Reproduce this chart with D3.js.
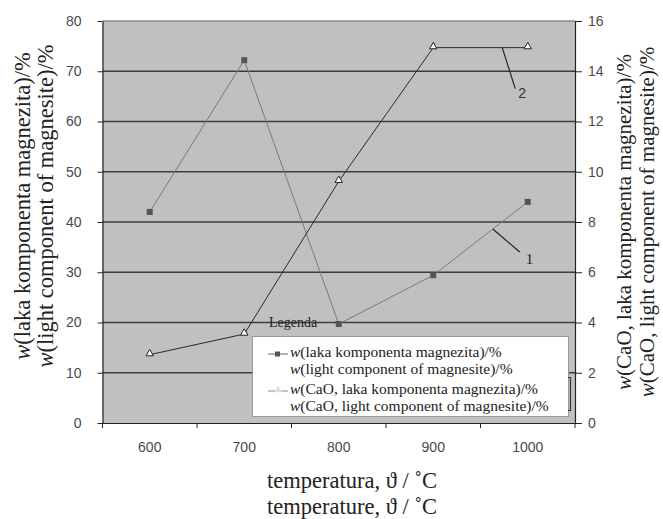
<!DOCTYPE html>
<html>
<head>
<meta charset="utf-8">
<script src="https://cdn.jsdelivr.net/npm/d3@7"></script>
<style>
  body { margin: 0; background: #fff; }
  svg { display: block; }
  .tick text { font-family: "Liberation Sans", Arial, sans-serif; font-size: 14px; fill: #4a4a4a; }
</style>
</head>
<body>
<div id="chart"></div>
<script>
// ---------------- data ----------------
const temps = ["600", "700", "800", "900", "1000"];
const lightComponent = [42.0, 72.2, 19.7, 29.4, 44.0];   // left axis, %
const caoContent = [2.72, 3.54, 9.62, 14.94, 14.94];     // right axis, %
const leftTicks = [0, 10, 20, 30, 40, 50, 60, 70, 80];
const rightTicks = [0, 2, 4, 6, 8, 10, 12, 14, 16];

const SERIF = "'Liberation Serif', 'Times New Roman', serif";

// ---------------- layout ----------------
const width = 663, height = 519;
const plot = { left: 102.5, right: 575, top: 21, bottom: 423 };

const svg = d3.select("#chart").append("svg")
  .attr("width", width)
  .attr("height", height);

const x = d3.scaleBand().domain(temps).range([plot.left, plot.right]);
const yL = d3.scaleLinear().domain([0, 80]).range([plot.bottom, plot.top]);
const yR = d3.scaleLinear().domain([0, 16]).range([plot.bottom, plot.top]);
const cx = d => x(d) + x.bandwidth() / 2;

// plot background
svg.append("rect")
  .attr("x", plot.left).attr("y", plot.top)
  .attr("width", plot.right - plot.left).attr("height", plot.bottom - plot.top)
  .attr("fill", "#c0c0c0");

// gridlines
svg.append("g").selectAll("line")
  .data(leftTicks.filter(t => t > 0 && t < 80))
  .enter().append("line")
  .attr("x1", plot.left).attr("x2", plot.right)
  .attr("y1", d => yL(d)).attr("y2", d => yL(d))
  .attr("stroke", "#3c3c3c").attr("stroke-width", 1.5);

svg.append("line")
  .attr("x1", plot.left).attr("x2", plot.right)
  .attr("y1", plot.top).attr("y2", plot.top)
  .attr("stroke", "#8a8a8a").attr("stroke-width", 1.5);

// ---------------- axes ----------------
const leftAxis = svg.append("g")
  .attr("transform", `translate(${plot.left},0)`)
  .call(d3.axisLeft(yL).tickValues(leftTicks).tickSize(5).tickSizeOuter(0).tickPadding(16));

const rightAxis = svg.append("g")
  .attr("transform", `translate(${plot.right},0)`)
  .call(d3.axisRight(yR).tickValues(rightTicks).tickSize(7).tickSizeOuter(0).tickPadding(6));

const bottomAxis = svg.append("g")
  .attr("transform", `translate(0,${plot.bottom})`)
  .call(d3.axisBottom(x).tickSize(0).tickPadding(19));

// boundary ticks for category axis
svg.append("g").selectAll("line")
  .data(d3.range(temps.length + 1))
  .enter().append("line")
  .attr("x1", i => plot.left + i * x.step())
  .attr("x2", i => plot.left + i * x.step())
  .attr("y1", plot.bottom).attr("y2", plot.bottom + 5)
  .attr("stroke", "#222");

[leftAxis, rightAxis, bottomAxis].forEach(g => {
  g.select(".domain").attr("stroke", "#222").attr("stroke-width", 1.2);
  g.selectAll(".tick line").attr("stroke", "#222");
});

// ---------------- series ----------------
const lineL = d3.line().x((d, i) => cx(temps[i])).y(d => yL(d));
const lineR = d3.line().x((d, i) => cx(temps[i])).y(d => yR(d));

svg.append("path")
  .attr("d", lineL(lightComponent))
  .attr("fill", "none").attr("stroke", "#7a7a7a").attr("stroke-width", 1);

svg.append("path")
  .attr("d", lineR(caoContent))
  .attr("fill", "none").attr("stroke", "#2a2a2a").attr("stroke-width", 1);

svg.append("g").selectAll("rect")
  .data(lightComponent)
  .enter().append("rect")
  .attr("x", (d, i) => cx(temps[i]) - 3)
  .attr("y", d => yL(d) - 3)
  .attr("width", 6).attr("height", 6)
  .attr("fill", "#555");

const tri = d3.symbol().type(d3.symbolTriangle).size(24);
svg.append("g").selectAll("path")
  .data(caoContent)
  .enter().append("path")
  .attr("d", tri)
  .attr("transform", (d, i) => `translate(${cx(temps[i])},${yR(d) - 1})`)
  .attr("fill", "#fff").attr("stroke", "#222").attr("stroke-width", 1);

// ---------------- curve labels ----------------
// "2" on the CaO line between 900 and 1000
const p2x = cx("900") + 0.73 * x.step();
svg.append("line")
  .attr("x1", p2x).attr("y1", yR(caoContent[4]))
  .attr("x2", p2x + 13).attr("y2", yR(caoContent[4]) + 41)
  .attr("stroke", "#222").attr("stroke-width", 1.2);
svg.append("text")
  .attr("x", p2x + 16).attr("y", yR(caoContent[4]) + 50)
  .attr("font-family", "'Liberation Sans', Arial, sans-serif")
  .attr("font-size", 14).attr("fill", "#333")
  .text("2");

// "1" on the light component line between 900 and 1000
const f1 = 0.63;
const p1x = cx("900") + f1 * x.step();
const p1y = yL(lightComponent[3] + f1 * (lightComponent[4] - lightComponent[3]));
svg.append("line")
  .attr("x1", p1x).attr("y1", p1y)
  .attr("x2", p1x + 27).attr("y2", p1y + 23)
  .attr("stroke", "#222").attr("stroke-width", 1.2);
svg.append("text")
  .attr("x", p1x + 33).attr("y", p1y + 35)
  .attr("font-family", SERIF)
  .attr("font-size", 15).attr("fill", "#222")
  .text("1");

// ---------------- legend ----------------
svg.append("text")
  .attr("x", 269).attr("y", 327)
  .attr("font-family", SERIF)
  .attr("font-size", 14).attr("fill", "#222")
  .text("Legenda");

const lg = svg.append("g");
lg.append("rect")
  .attr("x", 252.5).attr("y", 336.5)
  .attr("width", 316).attr("height", 80)
  .attr("fill", "#fff").attr("stroke", "#999");

lg.append("path")
  .attr("d", "M568,377.5 H570.5 V410.5 H568")
  .attr("fill", "none").attr("stroke", "#333").attr("stroke-width", 1.2);

const legendItems = [
  { lines: ["laka komponenta magnezita)/%", "light component of magnesite)/%"], y: 357, marker: "square" },
  { lines: ["CaO, laka komponenta magnezita)/%", "CaO, light component of magnesite)/%"], y: 394, marker: "triangle" }
];

legendItems.forEach(item => {
  const my = item.y - 3;
  lg.append("line")
    .attr("x1", 268).attr("x2", 288).attr("y1", my).attr("y2", my)
    .attr("stroke", item.marker === "square" ? "#666" : "#888");
  if (item.marker === "square") {
    lg.append("rect").attr("x", 275).attr("y", my - 2.5).attr("width", 5).attr("height", 5).attr("fill", "#555");
  } else {
    lg.append("path").attr("d", tri).attr("transform", `translate(278,${my - 1})`).attr("fill", "#ddd");
  }
  item.lines.forEach((t, k) => {
    const tx = lg.append("text")
      .attr("x", 290).attr("y", item.y + k * 16.5)
      .attr("font-family", SERIF)
      .attr("font-size", 15.5).attr("fill", "#222");
    tx.append("tspan").attr("font-style", "italic").text("w");
    tx.append("tspan").text("(" + t);
  });
});

// ---------------- axis titles ----------------
function axisTitle(lines, xs, yc, size) {
  lines.forEach((t, k) => {
    const tx = svg.append("text")
      .attr("transform", `translate(${xs[k]},${yc}) rotate(-90)`)
      .attr("text-anchor", "middle")
      .attr("font-family", SERIF)
      .attr("font-size", size).attr("fill", "#222");
    tx.append("tspan").attr("font-style", "italic").text("w");
    tx.append("tspan").text("(" + t);
  });
}
axisTitle(["laka komponenta magnezita)/%", "light component of magnesite)/%"], [30, 53], 206, 22.5);
axisTitle(["CaO, laka komponenta magnezita)/%", "CaO, light component of magnesite)/%"], [631, 654], 222, 21);

["temperatura, \u03D1 / \u02DAC", "temperature, \u03D1 / \u02DAC"].forEach((t, k) => {
  svg.append("text")
    .attr("x", 352).attr("y", 488 + k * 26)
    .attr("text-anchor", "middle")
    .attr("font-family", SERIF)
    .attr("font-size", 22.5).attr("fill", "#222")
    .text(t);
});
</script>
</body>
</html>
